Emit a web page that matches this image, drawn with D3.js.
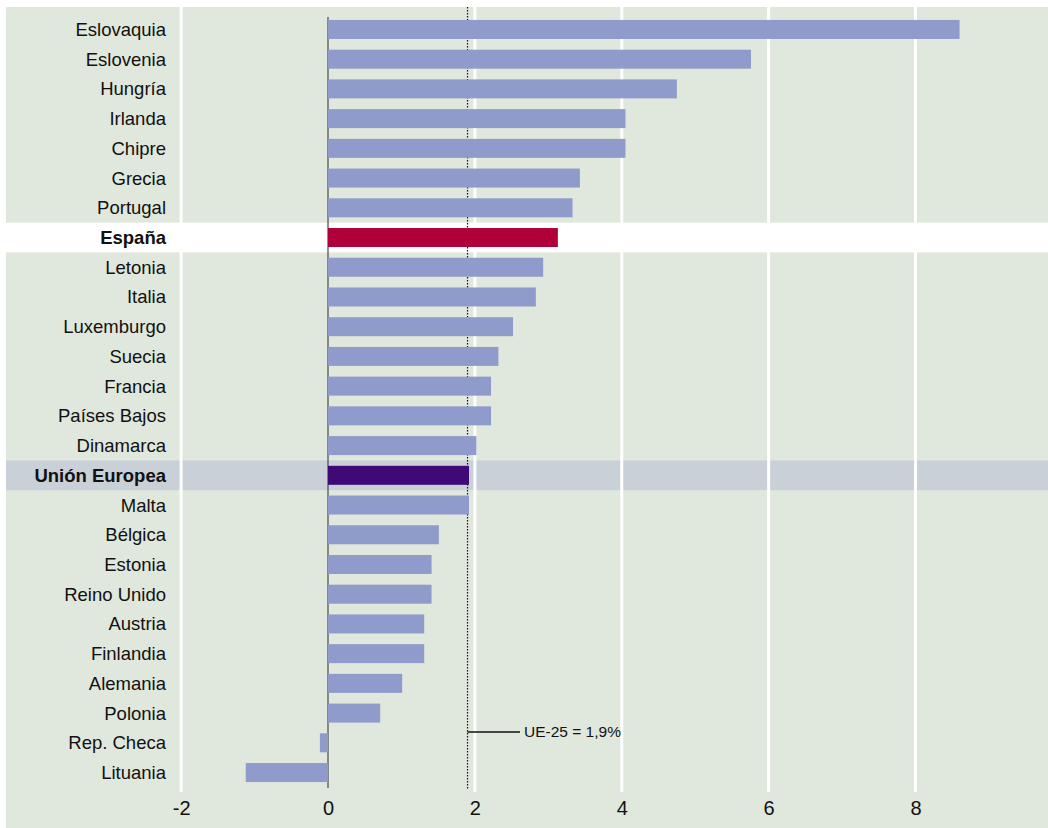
<!DOCTYPE html>
<html>
<head>
<meta charset="utf-8">
<script src="https://cdn.jsdelivr.net/npm/d3@7"></script>
<style>
  html, body { margin: 0; padding: 0; background: #ffffff; }
  svg { display: block; }
  text { font-family: "Liberation Sans", Arial, sans-serif; fill: #111; }
</style>
</head>
<body>
<svg id="chart" width="1048" height="828"></svg>
<script>
const categories = ["Eslovaquia","Eslovenia","Hungría","Irlanda","Chipre","Grecia","Portugal","España","Letonia","Italia","Luxemburgo","Suecia","Francia","Países Bajos","Dinamarca","Unión Europea","Malta","Bélgica","Estonia","Reino Unido","Austria","Finlandia","Alemania","Polonia","Rep. Checa","Lituania"];
const values = [8.6, 5.76, 4.75, 4.05, 4.05, 3.43, 3.33, 3.13, 2.93, 2.83, 2.52, 2.32, 2.22, 2.22, 2.02, 1.92, 1.92, 1.51, 1.41, 1.41, 1.31, 1.31, 1.01, 0.71, -0.11, -1.12];
const xTicks = [-2, 0, 2, 4, 6, 8];
const xTickLabels = ["-2", "0", "2", "4", "6", "8"];
const euAverage = 1.9;
const euLabel = "UE-25 = 1,9%";
const highlightSpain = "España";
const highlightEU = "Unión Europea";

const svg = d3.select("#chart");

// background panel
svg.append("rect").attr("x", 6).attr("y", 7).attr("width", 1042).attr("height", 821).attr("fill", "#e0e7dc");

const x = d3.scaleLinear().domain([0, 8]).range([328, 915.5]);
const y = d3.scaleBand().domain(categories).range([14.6, 787.4]).paddingInner(0).paddingOuter(0);
const barH = 19;

// highlight bands
svg.append("rect").attr("x", 6).attr("width", 1042)
  .attr("y", y(highlightSpain)).attr("height", y.bandwidth()).attr("fill", "#ffffff");
svg.append("rect").attr("x", 6).attr("width", 1042)
  .attr("y", y(highlightEU)).attr("height", y.bandwidth()).attr("fill", "#c9d0d8");

// gridlines (white), excluding zero
svg.append("g").selectAll("line").data(xTicks.filter(d => d !== 0)).join("line")
  .attr("x1", d => x(d)).attr("x2", d => x(d))
  .attr("y1", 7).attr("y2", 792)
  .attr("stroke", "#ffffff").attr("stroke-width", 3);

// zero line
svg.append("line").attr("x1", x(0)).attr("x2", x(0)).attr("y1", 17).attr("y2", 788)
  .attr("stroke", "#555").attr("stroke-width", 1.3);

// EU average dotted line
svg.append("line").attr("x1", x(euAverage)).attr("x2", x(euAverage)).attr("y1", 7).attr("y2", 790)
  .attr("stroke", "#111").attr("stroke-width", 1.2).attr("stroke-dasharray", "1.5,1.5");

// bars
svg.append("g").selectAll("rect").data(categories).join("rect")
  .attr("x", (d, i) => Math.min(x(0), x(values[i])))
  .attr("width", (d, i) => Math.abs(x(values[i]) - x(0)))
  .attr("y", d => y(d) + (y.bandwidth() - barH) / 2)
  .attr("height", barH)
  .attr("fill", d => d === highlightSpain ? "#b0003a" : (d === highlightEU ? "#3f0a78" : "#8f9bcb"));

// category labels
svg.append("g").selectAll("text").data(categories).join("text")
  .attr("x", 166)
  .attr("y", d => y(d) + y.bandwidth() / 2)
  .attr("dy", "0.35em")
  .attr("text-anchor", "end")
  .style("font-size", "18.5px")
  .style("font-weight", d => (d === highlightSpain || d === highlightEU) ? "bold" : "normal")
  .text(d => d);

// x axis tick labels
const xAxis = d3.axisBottom(x).tickValues(xTicks).tickSize(0).tickPadding(0)
  .tickFormat((d, i) => xTickLabels[i]);
const gx = svg.append("g").attr("transform", "translate(0,801)").call(xAxis);
gx.select(".domain").remove();
gx.selectAll("text").style("font-size", "20px").style("font-family", "\"Liberation Sans\", Arial, sans-serif").attr("fill", "#111").attr("dy", "0.71em");

// annotation
const annY = 732;
svg.append("line").attr("x1", x(euAverage)).attr("x2", 520).attr("y1", annY).attr("y2", annY)
  .attr("stroke", "#111").attr("stroke-width", 1.3);
svg.append("text").attr("x", 524).attr("y", annY).attr("dy", "0.35em")
  .style("font-size", "15.5px").text(euLabel);
</script>
</body>
</html>
